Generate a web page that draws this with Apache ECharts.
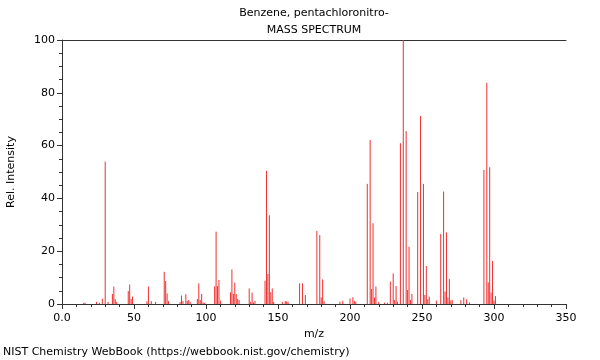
<!DOCTYPE html>
<html><head><meta charset="utf-8">
<script src="https://cdn.jsdelivr.net/npm/echarts@6/dist/echarts.min.js"></script>
<style>html,body{margin:0;padding:0;background:#fff}#c{width:600px;height:360px}</style>
</head><body><div id="c"></div>
<script>
const titleLines = ['Benzene, pentachloronitro-', 'MASS SPECTRUM'];
const xTitle = 'm/z';
const yTitle = 'Rel. Intensity';
const footer = 'NIST Chemistry WebBook (https://webbook.nist.gov/chemistry)';
const mz = [15,16,24,26,28,30,32,35,36,37,38,46,47,48,49,59,60,62,65,71,72,73,74,82,83,84,86,87,88,89,94,95,96,97,98,99,106,107,108,109,110,117,118,119,120,121,122,123,130,131,132,133,134,141,142,143,144,145,146,147,153,155,156,157,165,167,169,177,179,180,181,182,193,195,200,202,203,204,212,214,215,216,217,218,220,224,226,228,230,231,232,233,235,237,239,240,241,242,243,247,249,251,252,253,254,255,260,263,265,266,267,268,269,270,271,277,279,281,283,293,295,296,297,298,299,300,301];
const intensity = [0.4,0.5,0.8,0.5,2.0,53.9,0.8,3.8,6.6,1.8,0.8,4.9,7.4,1.9,2.8,1.0,6.6,1.1,0.8,12.2,8.7,4.0,1.1,0.8,3.2,1.1,3.7,1.2,1.5,0.8,1.9,7.8,1.5,3.8,0.6,0.4,6.7,27.4,6.8,9.1,1.3,4.4,13.1,3.8,8.1,3.8,1.9,1.5,5.9,0.8,4.3,0.6,1.2,8.8,50.4,11.4,33.6,4.5,5.9,0.8,0.8,1.1,1.0,0.8,7.8,7.8,3.4,27.7,26.1,2.5,9.3,1.1,0.9,1.2,2.1,2.6,1.2,0.9,45.5,62.1,5.7,30.6,2.5,6.6,0.8,0.5,0.5,8.5,11.6,1.5,6.8,0.9,60.9,100,65.5,5.3,21.7,1.5,3.8,42.4,71.2,45.5,3.4,14.4,1.8,2.8,1.3,26.5,42.6,4.7,27.1,2.4,9.5,1.3,1.5,1.5,2.5,1.8,0.6,50.8,83.8,8.2,51.8,4.4,16.3,1.3,3.0];

const font = 'DejaVu Sans';
const chart = echarts.init(document.getElementById('c'), null, {renderer:'canvas'});
const axisCol = '#333';
chart.setOption({
  animation:false,
  textStyle:{fontFamily:font},
  grid:{left:62,right:34,top:40,bottom:56,containLabel:false,outerBoundsMode:'none'},
  graphic:[
    {type:'text', x:314, y:8, style:{text:titleLines[0], textAlign:'center', font:'11px "DejaVu Sans"', fill:'#000'}},
    {type:'text', x:314, y:25, style:{text:titleLines[1], textAlign:'center', font:'11px "DejaVu Sans"', fill:'#000'}},
    {type:'text', x:3, y:347, style:{text:footer, textAlign:'left', font:'11px "DejaVu Sans"', fill:'#000'}}
  ],
  xAxis:[{
    type:'value', min:0, max:350, interval:50,
    name:xTitle, nameLocation:'middle', nameGap:24,
    nameTextStyle:{fontSize:11, color:'#000', fontFamily:font},
    axisLine:{show:true, lineStyle:{color:axisCol}},
    axisTick:{show:true, length:5, lineStyle:{color:axisCol}},
    minorTick:{show:true, splitNumber:5, length:3, lineStyle:{color:axisCol}},
    splitLine:{show:false},
    axisLabel:{fontSize:11, color:'#000', margin:9, formatter:v=> v===0 ? '0.0' : String(v)}
  },{
    type:'value', min:0, max:350, position:'top',
    axisLine:{show:true, lineStyle:{color:axisCol}},
    axisTick:{show:false}, axisLabel:{show:false}, splitLine:{show:false}
  }],
  yAxis:{
    type:'value', min:0, max:100, interval:20,
    name:yTitle, nameLocation:'middle', nameGap:45,
    nameTextStyle:{fontSize:11, color:'#000', fontFamily:font},
    axisLine:{show:true, lineStyle:{color:axisCol}},
    axisTick:{show:true, length:5, lineStyle:{color:axisCol}},
    minorTick:{show:true, splitNumber:4, length:3, lineStyle:{color:axisCol}},
    splitLine:{show:false},
    axisLabel:{fontSize:11, color:'#000', margin:7}
  },
  series:[{
    type:'custom',
    xAxisIndex:0,
    data: mz.map((m,i)=>[m,intensity[i]]),
    renderItem:(params, api)=>{
      const p0 = api.coord([api.value(0),0]);
      const p1 = api.coord([api.value(0),api.value(1)]);
      return {type:'line', shape:{x1:p0[0],y1:p0[1],x2:p1[0],y2:p1[1]}, style:{stroke:'#f03030', lineWidth:1}};
    }
  }]
});
</script></body></html>
